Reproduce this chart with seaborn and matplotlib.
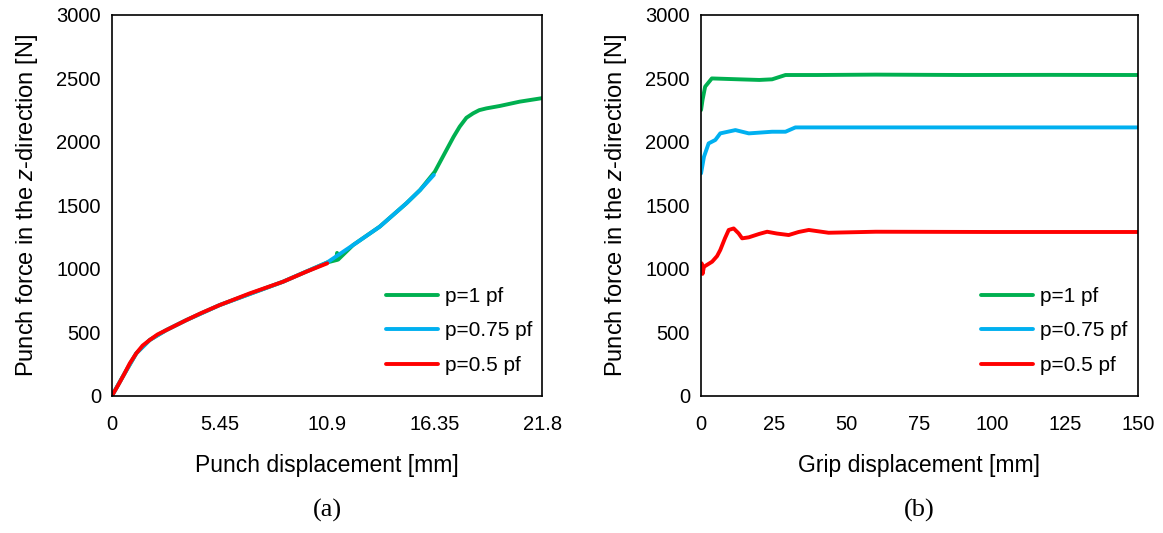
import pandas as pd
from matplotlib import pyplot as plt
import seaborn as sns

# (a) punch force vs punch displacement
a_x_red = [0, 0.3, 0.6, 0.9, 1.23, 1.55, 1.91, 2.3, 2.75, 3.2, 3.77, 4.5, 5.45, 6.97,
           8.66, 9.84, 10.9]
a_y_red = [0, 80, 165, 255, 334, 395, 439, 482, 517, 552, 596, 650, 714, 806, 898, 977, 1043]
a_x_blue = [0, 0.6, 1.23, 1.91, 2.75, 3.77, 5.45, 8.66, 10.9, 12.21, 13.56, 14.91, 15.6, 16.3]
a_y_blue = [0, 165, 334, 439, 517, 596, 714, 898, 1050, 1187, 1332, 1516, 1620, 1740]
a_x_green = [0, 0.6, 1.23, 1.91, 2.75, 3.77, 5.45, 8.66, 10.9, 11.35, 11.4, 11.45, 12.21,
             13.56, 14.91, 15.6, 16.35, 16.94, 17.3, 17.61, 17.95, 18.29, 18.6, 18.96,
             19.64, 20.65, 21.8]
a_y_green = [0, 165, 334, 439, 517, 596, 714, 898, 1050, 1068, 1125, 1072, 1187,
             1332, 1516, 1620, 1765, 1936, 2040, 2120, 2190, 2225, 2250, 2264,
             2283, 2317, 2345]

# (b) punch force vs grip displacement
b_x_green = [0, 0.5, 1.4, 3.7, 13, 20, 24.4, 29, 40, 60, 90, 120, 150]
b_y_green = [2251, 2330, 2435, 2500, 2493, 2488, 2493, 2527, 2527, 2530, 2527, 2528, 2527]
b_x_blue = [0, 1.0, 2.6, 4.9, 6.6, 11.8, 16.4, 24.4, 29, 32.4, 50, 80, 110, 150]
b_y_blue = [1752, 1883, 1988, 2015, 2067, 2093, 2067, 2080, 2080, 2114, 2114, 2114, 2114, 2114]
b_x_red = [0, 0.2, 0.5, 1.0, 3.8, 5.5, 6.6, 8.2, 9.5, 11.2, 12.9, 14.1, 16.4, 20, 22.7,
           26, 30.1, 33.5, 37, 43.8, 60, 100, 150]
b_y_red = [1000, 1043, 960, 1016, 1056, 1100, 1148, 1240, 1306, 1318, 1279, 1240, 1248,
           1275, 1292, 1278, 1266, 1290, 1306, 1284, 1292, 1290, 1290]

labels = ["p=1 pf", "p=0.75 pf", "p=0.5 pf"]
colors = {"p=1 pf": "#00b050", "p=0.75 pf": "#00b0f0", "p=0.5 pf": "#ff0000"}
a_ticks = [0, 5.45, 10.9, 16.35, 21.8]
b_ticks = [0, 25, 50, 75, 100, 125, 150]


def make_df(xs, ys):
    parts = []
    for lab, x, y in zip(labels, xs, ys):
        parts.append(pd.DataFrame({"x": x, "y": y, "series": lab}))
    return pd.concat(parts, ignore_index=True)


df_a = make_df([a_x_green, a_x_blue, a_x_red], [a_y_green, a_y_blue, a_y_red])
df_b = make_df([b_x_green, b_x_blue, b_x_red], [b_y_green, b_y_blue, b_y_red])

sns.set_style("white")
plt.rcParams["font.family"] = ["Liberation Sans", "DejaVu Sans"]
plt.rcParams["mathtext.fontset"] = "custom"
plt.rcParams["mathtext.it"] = "Liberation Sans:italic"
plt.rcParams["text.color"] = "black"
plt.rcParams["axes.labelcolor"] = "black"
plt.rcParams["xtick.color"] = "black"
plt.rcParams["ytick.color"] = "black"

fig = plt.figure(figsize=(11.63, 5.33), dpi=100)
ax1 = fig.add_axes([0.0963, 0.2576, 0.3701, 0.7143])
ax2 = fig.add_axes([0.6028, 0.2576, 0.3755, 0.7143])

for ax, df, xlim, xticks, xlabel, cap in [
    (ax1, df_a, (0, 21.8), a_ticks, "Punch displacement [mm]", "(a)"),
    (ax2, df_b, (0, 150), b_ticks, "Grip displacement [mm]", "(b)"),
]:
    sns.lineplot(data=df, x="x", y="y", hue="series", palette=colors, sort=False,
                 estimator=None, linewidth=2.8, ax=ax)
    ax.set_xlim(*xlim)
    ax.set_ylim(0, 3000)
    ax.set_xticks(xticks)
    ax.set_xticklabels([f"{t:g}" for t in xticks])
    ax.set_yticks(range(0, 3001, 500))
    ax.tick_params(direction="in", length=6, width=1.2, labelsize=14.5)
    ax.tick_params(axis="x", pad=14)
    ax.tick_params(axis="y", pad=8)
    for s in ax.spines.values():
        s.set_color("black")
        s.set_linewidth(1.2)
    ax.set_xlabel(xlabel, fontsize=16.5, labelpad=14)
    ax.set_ylabel("Punch force in the $z$-direction [N]", fontsize=17, labelpad=12)
    ax.legend(title=None, frameon=False, loc="lower right", fontsize=15,
              handlelength=2.5, handletextpad=0.35, labelspacing=0.75,
              bbox_to_anchor=(1.02, 0.005))
    ax.text(0.5, -0.27, cap, transform=ax.transAxes, ha="center", va="top",
            fontsize=19, family="Liberation Serif")

fig.savefig("out.png", dpi=100)
